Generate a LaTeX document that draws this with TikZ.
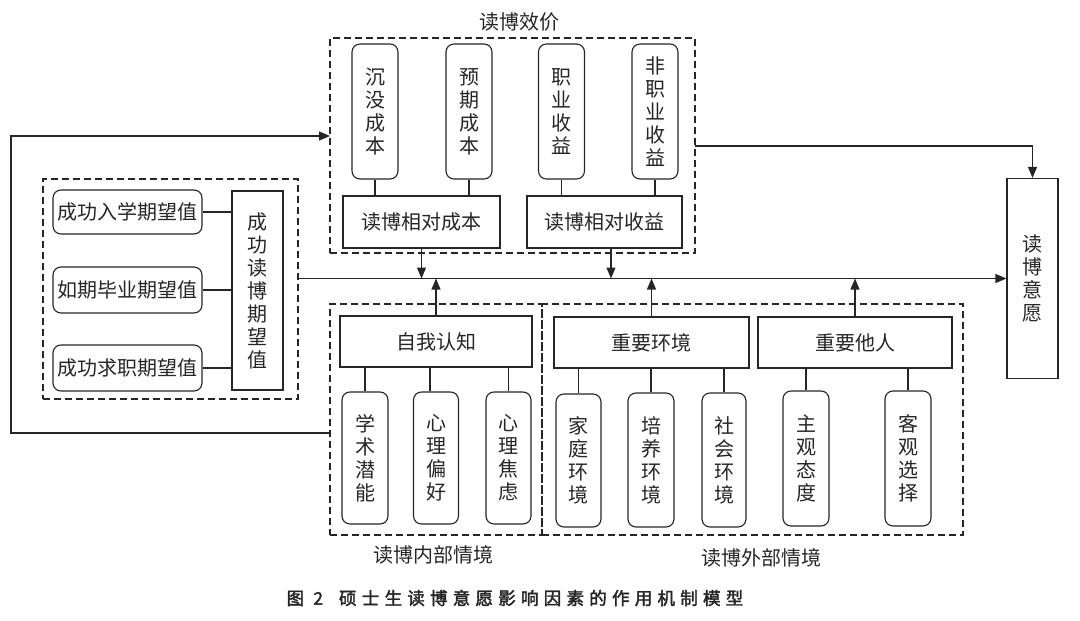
\documentclass[tikz,border=0pt]{standalone}
\usepackage{fontspec}
\newfontfamily\cjk{Noto Sans CJK SC}
\newfontfamily\capfont[FakeBold=2.2,LetterSpace=30]{Noto Sans CJK SC}
\usetikzlibrary{arrows.meta}
\definecolor{ink}{HTML}{262626}
\begin{document}
\begin{tikzpicture}[x=1pt,y=-1pt,
  font=\cjk\fontsize{20}{23}\selectfont,
  line width=1.1pt, draw=ink, text=ink,
  box/.style={draw=ink, inner sep=0pt, align=center},
  rbox/.style={box, rounded corners=8pt},
  dbox/.style={draw=ink, dash pattern=on 7pt off 4pt, inner sep=0pt},
  sz/.style 2 args={minimum width=#1pt, minimum height=#2pt},
  arr/.style={-{Triangle[length=11pt,width=9pt]}},
]
\useasboundingbox (0,0) rectangle (1080,621);
\fill[white] (0,0) rectangle (1080,621);

% ---------- top group: 读博效价 ----------
\node[dbox, sz={365}{215}] (V) at (512.5,145.5) {};
\node (lt) at (519,22) {读博效价};
\node[rbox, sz={46}{135}] (t1) at (375,111.5) {沉\\没\\成\\本};
\node[rbox, sz={46}{135}] (t2) at (469,111.5) {预\\期\\成\\本};
\node[rbox, sz={46}{135}] (t3) at (561.5,111.5) {职\\业\\收\\益};
\node[rbox, sz={46}{135}] (t4) at (655,111.5) {非\\职\\业\\收\\益};
\node[box, sz={157}{52}] (r1) at (421.5,222) {读博相对成本};
\node[box, sz={155}{52}] (r2) at (604.5,222) {读博相对收益};
\draw (t1.south) -- (t1.south |- r1.north);
\draw (t2.south) -- (t2.south |- r1.north);
\draw (t3.south) -- (t3.south |- r2.north);
\draw (t4.south) -- (t4.south |- r2.north);

% ---------- left group ----------
\node[dbox, sz={255}{220}] (L) at (170.5,289) {};
\node[rbox, sz={149}{44}] (e1) at (127.5,212) {成功入学期望值};
\node[rbox, sz={149}{46}] (e2) at (127.5,290) {如期毕业期望值};
\node[rbox, sz={149}{46}] (e3) at (127.5,368) {成功求职期望值};
\node[box, sz={51}{199}] (E) at (257.5,290.5) {成\\功\\读\\博\\期\\望\\值};
\draw (e1.east) -- (e1.east -| E.west);
\draw (e2.east) -- (e2.east -| E.west);
\draw (e3.east) -- (e3.east -| E.west);

% ---------- result ----------
\node[box, sz={51}{200}] (W) at (1032.5,278.5) {读\\博\\意\\愿};

% ---------- bottom groups ----------
\node[dbox, sz={212}{231}] (I) at (436,419.5) {};
\node[dbox, sz={421}{231}] (X) at (752.5,419.5) {};
\node (li) at (433,555) {读博内部情境};
\node (lx) at (761,558) {读博外部情境};
\node[box, sz={192}{51}] (s) at (436,341.5) {自我认知};
\node[box, sz={195}{51}] (g1) at (651.5,342.5) {重要环境};
\node[box, sz={194}{51}] (g2) at (855,342.5) {重要他人};
\node[rbox, sz={46}{132}] (b1) at (365,458) {学\\术\\潜\\能};
\node[rbox, sz={45}{132}] (b2) at (436,458) {心\\理\\偏\\好};
\node[rbox, sz={45}{132}] (b3) at (508.5,458) {心\\理\\焦\\虑};
\node[rbox, sz={45}{133}] (b4) at (578.5,460.5) {家\\庭\\环\\境};
\node[rbox, sz={46}{134}] (b5) at (651,460) {培\\养\\环\\境};
\node[rbox, sz={44}{134}] (b6) at (724,460) {社\\会\\环\\境};
\node[rbox, sz={46}{135}] (b7) at (806,458.5) {主\\观\\态\\度};
\node[rbox, sz={46}{135}] (b8) at (908,458.5) {客\\观\\选\\择};
\coordinate (k2) at (430,0);
\draw (b1.north) -- (b1.north |- s.south);
\draw (b2.north -| k2) -- (s.south -| k2);
\draw (b3.north) -- (b3.north |- s.south);
\draw (b4.north) -- (b4.north |- g1.south);
\draw (b5.north) -- (b5.north |- g1.south);
\draw (b6.north) -- (b6.north |- g1.south);
\draw (b7.north) -- (b7.north |- g2.south);
\draw (b8.north) -- (b8.north |- g2.south);

% ---------- connectors ----------
\coordinate (m0) at (298,278.5);
\draw[arr] (m0) -- (W.west);
\draw[arr] (r1.south) -- (r1.south |- m0);
\coordinate (a2) at (611,278.5);
\draw[arr] (r2.south -| a2) -- (a2);
\draw[arr] (s.north) -- (s.north |- m0);
\draw[arr] (g1.north) -- (g1.north |- m0);
\draw[arr] (g2.north) -- (g2.north |- m0);
\coordinate (tr) at (695,146);
\draw[arr] (tr) -| (W.north);
\coordinate (fb1) at (330,433);
\coordinate (fb2) at (330,136);
\draw[arr] (fb1) -- ++(-319,0) |- (fb2);

% ---------- caption ----------
\node[font=\capfont\fontsize{17.5}{20}\selectfont] (cap) at (515,598)
  {图 2\hspace{16pt}硕士生读博意愿影响因素的作用机制模型};
\end{tikzpicture}
\end{document}
